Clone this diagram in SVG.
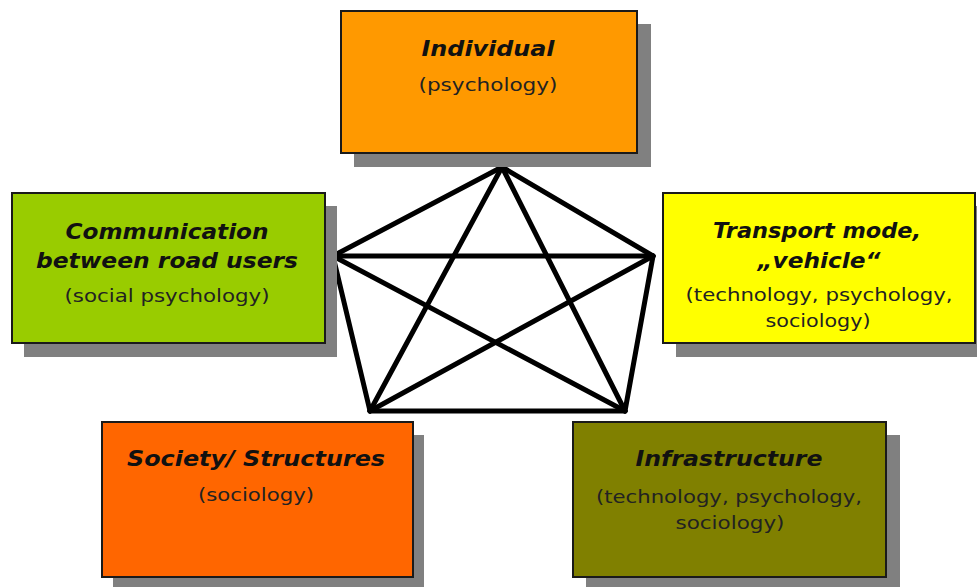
<svg xmlns="http://www.w3.org/2000/svg" width="977" height="587" viewBox="0 0 977 587">
<style>
.sh{fill:#808080}
.bx{stroke:#1a1a1a;stroke-width:2}
.t{font-family:"DejaVu Sans",Verdana,sans-serif;font-weight:bold;font-style:italic;font-size:21px;fill:#111;text-anchor:middle}
.s{font-family:"DejaVu Sans",Verdana,sans-serif;font-size:17px;fill:#222;text-anchor:middle}
.ln{stroke:#000;stroke-width:5;stroke-linecap:round;fill:none}
</style>
<rect width="977" height="587" fill="#fff"/>
<g id="connectors">
<line class="ln" x1="502" y1="167" x2="333" y2="256"/>
<line class="ln" x1="502" y1="167" x2="653" y2="256"/>
<line class="ln" x1="502" y1="167" x2="370" y2="411"/>
<line class="ln" x1="502" y1="167" x2="625" y2="411"/>
<line class="ln" x1="333" y1="256" x2="653" y2="256"/>
<line class="ln" x1="333" y1="256" x2="370" y2="411"/>
<line class="ln" x1="333" y1="256" x2="625" y2="411"/>
<line class="ln" x1="653" y1="256" x2="370" y2="411"/>
<line class="ln" x1="653" y1="256" x2="625" y2="411"/>
<line class="ln" x1="370" y1="411" x2="625" y2="411"/>
</g>
<g id="individual">
<rect class="sh" x="354" y="24" width="297" height="143"/>
<rect class="bx" x="341" y="11" width="296" height="142" fill="#FF9900"/>
<text class="t" x="488" y="56" textLength="133" lengthAdjust="spacingAndGlyphs">Individual</text>
<text class="s" x="488" y="91" textLength="139" lengthAdjust="spacingAndGlyphs">(psychology)</text>
</g>
<g id="communication">
<rect class="sh" x="24" y="206" width="313" height="151"/>
<rect class="bx" x="12" y="193" width="313" height="150" fill="#99CC00"/>
<text class="t" x="167" y="239" textLength="203" lengthAdjust="spacingAndGlyphs">Communication</text>
<text class="t" x="167" y="268" textLength="262" lengthAdjust="spacingAndGlyphs">between road users</text>
<text class="s" x="167" y="302" textLength="205" lengthAdjust="spacingAndGlyphs">(social psychology)</text>
</g>
<g id="transport">
<rect class="sh" x="676" y="206" width="301" height="151"/>
<rect class="bx" x="663" y="193" width="312" height="150" fill="#FFFF00"/>
<text class="t" x="817" y="238" textLength="208" lengthAdjust="spacingAndGlyphs">Transport mode,</text>
<text class="t" x="819" y="268" textLength="123" lengthAdjust="spacingAndGlyphs">„vehicle“</text>
<text class="s" x="819" y="301" textLength="267" lengthAdjust="spacingAndGlyphs">(technology, psychology,</text>
<text class="s" x="818" y="327" textLength="105" lengthAdjust="spacingAndGlyphs">sociology)</text>
</g>
<g id="society">
<rect class="sh" x="113" y="435" width="311" height="152"/>
<rect class="bx" x="102" y="422" width="311" height="155" fill="#FF6600"/>
<text class="t" x="256" y="466" textLength="258" lengthAdjust="spacingAndGlyphs">Society/ Structures</text>
<text class="s" x="256" y="501" textLength="116" lengthAdjust="spacingAndGlyphs">(sociology)</text>
</g>
<g id="infrastructure">
<rect class="sh" x="586" y="435" width="314" height="152"/>
<rect class="bx" x="573" y="422" width="313" height="155" fill="#808000"/>
<text class="t" x="729" y="466" textLength="187" lengthAdjust="spacingAndGlyphs">Infrastructure</text>
<text class="s" x="729" y="503" textLength="266" lengthAdjust="spacingAndGlyphs">(technology, psychology,</text>
<text class="s" x="730" y="529" textLength="109" lengthAdjust="spacingAndGlyphs">sociology)</text>
</g>
</svg>
